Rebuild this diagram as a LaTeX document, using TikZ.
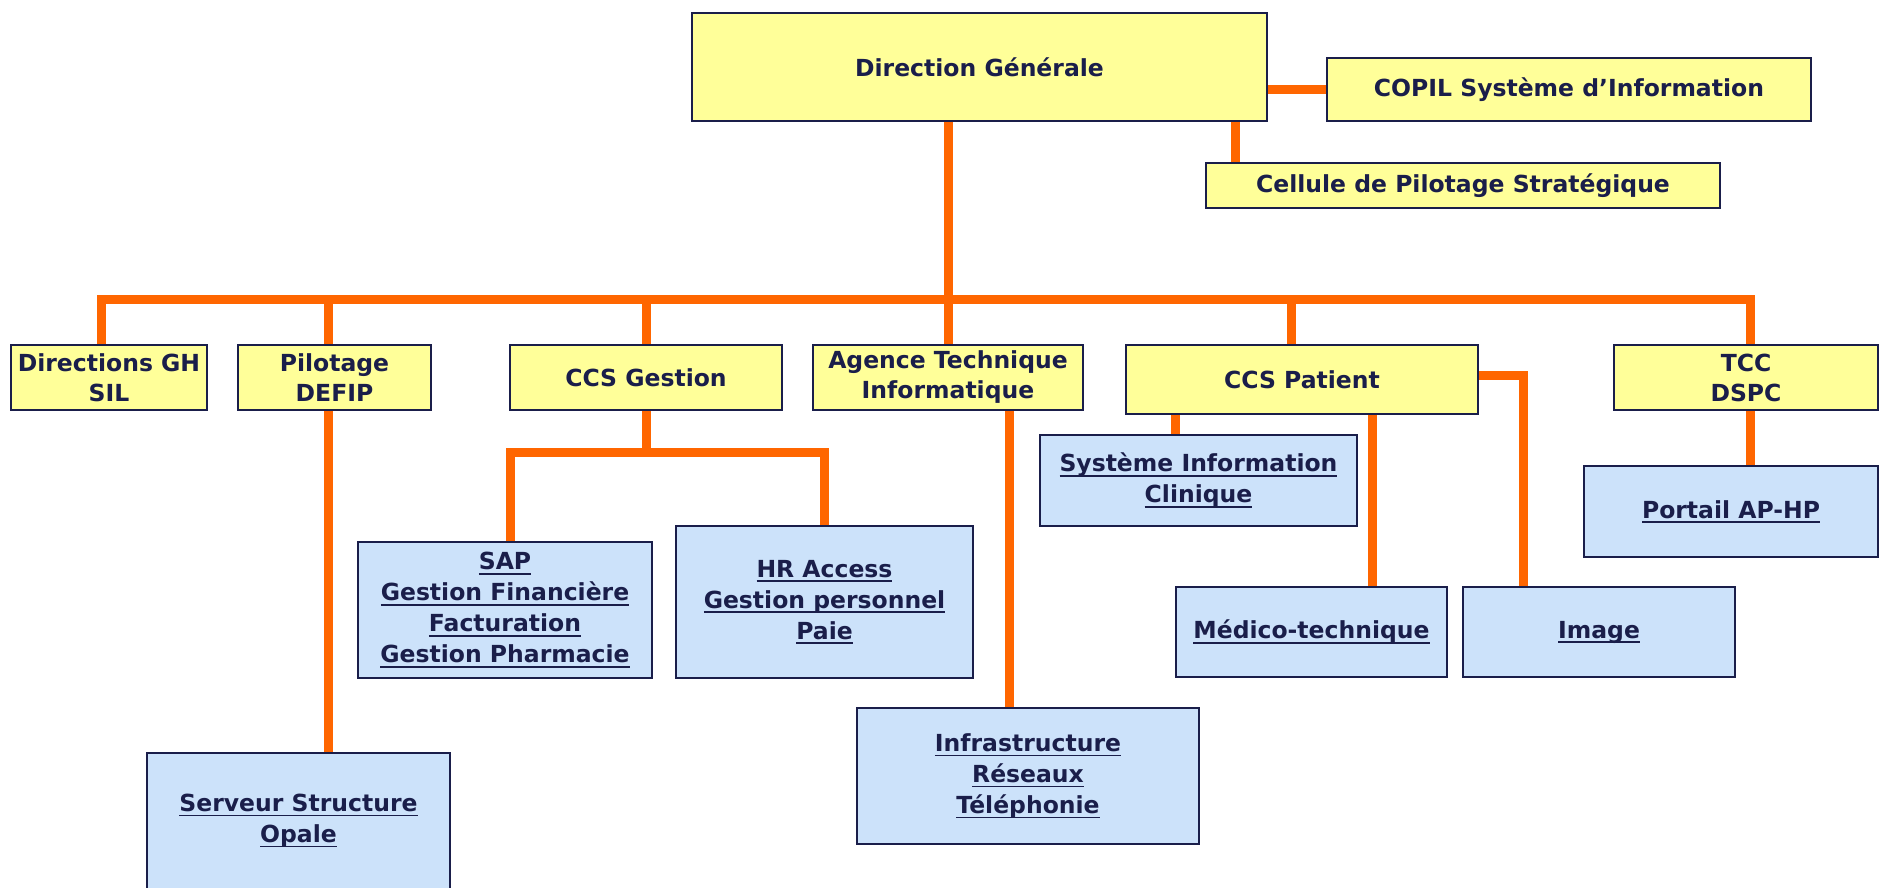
\documentclass[tikz,border=0pt]{standalone}
\usepackage{fontspec}
\setmainfont{DejaVu Sans}
\usetikzlibrary{backgrounds}
\definecolor{navy}{HTML}{1A1E4A}
\definecolor{ylw}{HTML}{FFFF99}
\definecolor{lblue}{HTML}{CCE2FA}
\definecolor{org}{HTML}{FF6600}
\newcommand\ulx[1]{\setbox0=\hbox{#1}\rlap{\rule[-0.2em]{\wd0}{0.07em}}\box0}
\tikzset{
  base/.style={draw=navy, line width=2.5pt, rectangle, align=center, text=navy,
    font=\fontsize{23.5}{30}\bfseries\selectfont, inner sep=0pt},
  ybox/.style={base, fill=ylw},
  bbox/.style={base, fill=lblue, font=\fontsize{23.5}{31}\bfseries\selectfont},
  conn/.style={draw=org, line width=9pt}
}
\begin{document}
\begin{tikzpicture}[x=1pt,y=-1pt]
\useasboundingbox (0,0) rectangle (1883,888);
% level 0
\node[ybox, minimum width=575pt, minimum height=108pt] (dg) at (979.5,67) {Direction Générale};
\node[ybox, minimum width=484pt, minimum height=63pt] (copil) at (1569,89.5) {COPIL Système d’Information};
\node[ybox, minimum width=514pt, minimum height=45pt] (cell) at (1463,185.5) {Cellule de Pilotage Stratégique};
% level 1
\node[ybox, minimum width=196pt, minimum height=65pt] (dirgh) at (109,377.5) {Directions GH\\SIL};
\node[ybox, minimum width=193pt, minimum height=65pt] (pilot) at (334.5,377.5) {Pilotage\\DEFIP};
\node[ybox, minimum width=272pt, minimum height=65pt] (ccsg) at (646,377.5) {CCS Gestion};
\node[ybox, minimum width=270pt, minimum height=65pt] (agence) at (948,377.5) {Agence Technique\\Informatique};
\node[ybox, minimum width=352pt, minimum height=69pt] (ccsp) at (1302,379.5) {CCS Patient};
\node[ybox, minimum width=264pt, minimum height=65pt] (tcc) at (1746,377.5) {TCC\\DSPC};
% level 2
\node[bbox, minimum width=303pt, minimum height=136pt] (serv) at (298.5,821) {\ulx{Serveur Structure}\\\ulx{Opale}};
\node[bbox, minimum width=294pt, minimum height=136pt] (sap) at (505,610) {\ulx{SAP}\\\ulx{Gestion Financière}\\\ulx{Facturation}\\\ulx{Gestion Pharmacie}};
\node[bbox, minimum width=297pt, minimum height=152pt] (hr) at (824.5,602) {\ulx{HR Access}\\\ulx{Gestion personnel}\\\ulx{Paie}};
\node[bbox, minimum width=342pt, minimum height=136pt] (infra) at (1028,776) {\ulx{Infrastructure}\\\ulx{Réseaux}\\\ulx{Téléphonie}};
\node[bbox, minimum width=317pt, minimum height=91pt] (sic) at (1198.5,480.5) {\ulx{Système Information}\\\ulx{Clinique}};
\node[bbox, minimum width=271pt, minimum height=90pt] (medico) at (1311.5,632) {\ulx{Médico-technique}};
\node[bbox, minimum width=272pt, minimum height=90pt] (image) at (1599,632) {\ulx{Image}};
\node[bbox, minimum width=294pt, minimum height=91pt] (portail) at (1731,511.5) {\ulx{Portail AP-HP}};
% connectors
\coordinate (bus) at (948,299);
\coordinate (gbus) at (646,452);
\begin{scope}[on background layer]
\draw[conn] (dg.south -| agence.north) -- (bus);
\draw[conn] ([xshift=-8pt]dirgh.north) |- (bus) -| ([xshift=4pt]tcc.north);
\draw[conn] ([xshift=-6pt]pilot.north) -- ([xshift=-6pt]pilot.north |- bus);
\draw[conn] (ccsg.north) -- (ccsg.north |- bus);
\draw[conn] (bus) -- (agence.north);
\draw[conn] ([xshift=-11pt]ccsp.north) -- ([xshift=-11pt]ccsp.north |- bus);
\draw[conn] (dg.east |- copil.west) -- (copil.west);
\draw[conn] ([xshift=31pt]cell.north west) -- ([xshift=31pt]cell.north west |- dg.south);
\draw[conn] ([xshift=-6pt]pilot.south) -- ([xshift=-6pt]pilot.south |- serv.north);
\draw[conn] (ccsg.south) -- (gbus);
\draw[conn] ([xshift=5pt]sap.north) |- (gbus) -| (hr.north);
\draw[conn] ([xshift=-19pt]infra.north) -- ([xshift=-19pt]infra.north |- agence.south);
\draw[conn] ([xshift=-23.5pt]sic.north) -- ([xshift=-23.5pt]sic.north |- ccsp.south);
\draw[conn] ([xshift=60.5pt]medico.north) -- ([xshift=60.5pt]medico.north |- ccsp.south);
\draw[conn] ([yshift=4.5pt]ccsp.east) -| ([xshift=-76pt]image.north);
\draw[conn] ([xshift=4pt]tcc.south) -- ([xshift=4pt]tcc.south |- portail.north);
\end{scope}
\end{tikzpicture}
\end{document}
